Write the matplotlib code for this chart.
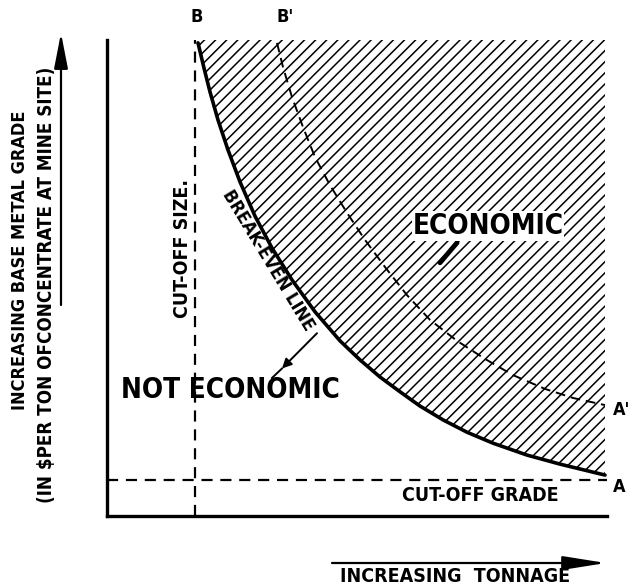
import numpy as np
import matplotlib
matplotlib.use("Agg")
import matplotlib.pyplot as plt

plt.rcParams["font.family"] = ["DejaVu Sans"]
plt.rcParams["font.stretch"] = "condensed"
plt.rcParams["hatch.linewidth"] = 1.1

# breakeven line (A-B), axes run 0..10 both ways
breakeven_x = [1.82, 1.94, 2.06, 2.22, 2.42, 2.66, 2.96, 3.30, 3.70, 4.16, 4.66,
               5.06, 5.46, 5.86, 6.26, 6.72, 7.20, 7.72, 8.40, 9.06, 9.96]
breakeven_y = [9.94, 9.41, 8.91, 8.32, 7.69, 7.02, 6.30, 5.63, 4.96, 4.29, 3.68,
               3.28, 2.92, 2.61, 2.31, 2.02, 1.76, 1.53, 1.28, 1.09, 0.86]

# shifted breakeven line (A'-B')
shifted_x = [3.40, 3.52, 3.70, 3.92, 4.16, 4.46, 4.80, 5.16, 5.56, 6.00, 6.46, 7.00,
             7.56, 8.12, 8.76, 9.32, 9.96]
shifted_y = [9.94, 9.43, 8.80, 8.17, 7.54, 6.95, 6.37, 5.80, 5.23, 4.64, 4.12, 3.68,
             3.30, 2.96, 2.67, 2.48, 2.33]

cutoff_size = 1.76
cutoff_grade = 0.76

fig = plt.figure(figsize=(6.3, 5.85), dpi=100)
ax = fig.add_axes([107 / 630, 69 / 585, 500 / 630, 476 / 585])
ax.set_xlim(0, 10)
ax.set_ylim(0, 10)
ax.set_xticks([])
ax.set_yticks([])
for s in ("top", "right"):
    ax.spines[s].set_visible(False)
for s in ("left", "bottom"):
    ax.spines[s].set_linewidth(2.4)

# economic region
ax.fill_between(breakeven_x, breakeven_y, 10, facecolor="none", edgecolor="black",
                hatch="///", linewidth=0)
ax.plot(breakeven_x, breakeven_y, color="black", lw=2.6, solid_capstyle="round",
        solid_joinstyle="round")
ax.plot(shifted_x, shifted_y, color="black", lw=1.4, dashes=(5, 3))

ax.axvline(cutoff_size, color="black", lw=1.6, dashes=(5, 3.5))
ax.axhline(cutoff_grade, color="black", lw=1.6, dashes=(5, 3.5))

bold = dict(color="black", fontweight="bold")
ax.text(2.46, 2.65, "NOT ECONOMIC", fontsize=20, ha="center", va="center", **bold)
ax.text(7.62, 6.09, "ECONOMIC", fontsize=20, ha="center", va="center",
        bbox=dict(facecolor="white", edgecolor="none", pad=0.5), **bold)
ax.text(7.46, 0.44, "CUT-OFF GRADE", fontsize=14, ha="center", va="center", **bold)
ax.text(1.52, 5.63, "CUT-OFF SIZE.", fontsize=14, rotation=90, ha="center",
        va="center", **bold)
ax.text(3.22, 5.38, "BREAK-EVEN LINE", fontsize=13, rotation=-58.8, ha="center",
        va="center", rotation_mode="anchor", **bold)

ax.text(1.8, 10.48, "B", fontsize=13, ha="center", va="center", clip_on=False, **bold)
ax.text(3.56, 10.48, "B'", fontsize=13, ha="center", va="center", clip_on=False, **bold)
ax.text(10.12, 2.23, "A'", fontsize=13, ha="left", va="center", clip_on=False, **bold)
ax.text(10.12, 0.61, "A", fontsize=13, ha="left", va="center", clip_on=False, **bold)

# pointers
ax.annotate("", xy=(3.5, 3.1), xytext=(4.2, 3.84),
            arrowprops=dict(arrowstyle="-|>", color="black", lw=1.4,
                            mutation_scale=14, shrinkA=0, shrinkB=0))
ax.plot([3.5, 3.3], [3.1, 2.9], color="black", lw=1.4)
ax.plot([7.0, 6.66], [5.74, 5.32], color="black", lw=3.5, solid_capstyle="round")

# axis arrows and labels
fig.text(20 / 630, 1 - 260 / 585, "INCREASING BASE METAL GRADE", rotation=90,
         fontsize=13, ha="center", va="center", **bold)
fig.text(47 / 630, 1 - 285 / 585, "(IN $PER TON OFCONCENTRATE AT MINE SITE)",
         rotation=90, fontsize=13.5, ha="center", va="center", **bold)
fig.add_artist(matplotlib.patches.FancyArrowPatch(
    (61 / 630, 1 - 305 / 585), (61 / 630, 1 - 33 / 585), transform=fig.transFigure,
    arrowstyle="-|>,head_length=1.8,head_width=0.35", mutation_scale=12,
    color="black", lw=1.6, shrinkA=0, shrinkB=0))
fig.add_artist(matplotlib.patches.FancyArrowPatch(
    (332 / 630, 1 - 563 / 585), (606 / 630, 1 - 563 / 585), transform=fig.transFigure,
    arrowstyle="-|>,head_length=2.2,head_width=0.35", mutation_scale=12,
    color="black", lw=1.6, shrinkA=0, shrinkB=0))
fig.text(455 / 630, 1 - 577 / 585, "INCREASING  TONNAGE", fontsize=14,
         ha="center", va="center", **bold)

fig.savefig("out.png", dpi=100)
